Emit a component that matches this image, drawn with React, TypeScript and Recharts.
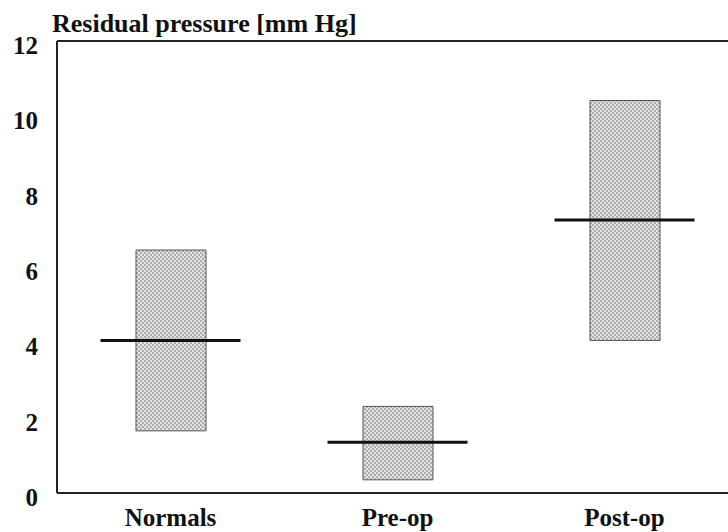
import { ComposedChart, Bar, Scatter, XAxis, YAxis, ReferenceLine } from 'recharts';

const groups = ['Normals', 'Pre-op', 'Post-op'];
const lowValues = [1.65, 0.35, 4.05];
const highValues = [6.45, 2.3, 10.42];
const medianValues = [4.05, 1.35, 7.25];
const yTicks = [0, 2, 4, 6, 8, 10, 12];

const data = groups.map((name, i) => ({
  name,
  range: [lowValues[i], highValues[i]],
  median: medianValues[i],
}));

const serif = '"Liberation Serif", "Times New Roman", serif';
const tickStyle = { fontSize: 25, fontWeight: 700, fill: '#111', fontFamily: serif };

// horizontal median bar, twice as wide as the box
const MedianLine = (props: any) => {
  const { cx, cy } = props;
  if (cx == null || cy == null) return null;
  return <line x1={cx - 70} x2={cx + 70} y1={cy} y2={cy} stroke="#111" strokeWidth={3} />;
};

const YTick = (props: any) => {
  const { x, y, payload } = props;
  return (
    <text x={x} y={y + 4} dy="0.355em" textAnchor="end" {...tickStyle}>
      {payload.value}
    </text>
  );
};

export default function App() {
  return (
    <div
      style={{
        position: 'absolute',
        left: 0,
        top: 0,
        width: 728,
        height: 532,
        overflow: 'hidden',
        background: '#fff',
      }}
    >
      <div
        style={{
          position: 'absolute',
          left: 52,
          top: 9,
          fontFamily: serif,
          fontWeight: 700,
          fontSize: 26,
          lineHeight: '30px',
          color: '#111',
          whiteSpace: 'nowrap',
        }}
      >
        Residual pressure [mm Hg]
      </div>
      <ComposedChart
        width={760}
        height={532}
        data={data}
        margin={{ top: 41, right: 22, left: 0, bottom: 0 }}
      >
        <defs>
          <pattern id="stipple" width={4} height={4} patternUnits="userSpaceOnUse">
            <rect width={4} height={4} fill="#e4e4e4" />
            <circle cx={1} cy={1} r={0.8} fill="#666" />
            <circle cx={3} cy={3} r={0.8} fill="#666" />
          </pattern>
        </defs>
        <XAxis
          dataKey="name"
          height={39}
          axisLine={{ stroke: '#222', strokeWidth: 2 }}
          tickLine={false}
          tick={tickStyle}
          tickMargin={9}
        />
        <YAxis
          width={57}
          domain={[0, 12]}
          ticks={yTicks}
          interval={0}
          axisLine={{ stroke: '#222', strokeWidth: 2 }}
          tickLine={false}
          tick={<YTick />}
          tickMargin={13}
        />
        <ReferenceLine y={12} stroke="#222" strokeWidth={2} />
        <Bar
          dataKey="range"
          barSize={70}
          fill="url(#stipple)"
          stroke="#555"
          strokeWidth={1}
          isAnimationActive={false}
        />
        <Scatter dataKey="median" shape={MedianLine} isAnimationActive={false} />
      </ComposedChart>
    </div>
  );
}
